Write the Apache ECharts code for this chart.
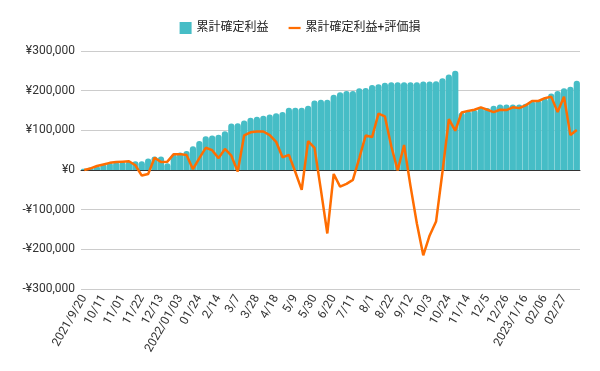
<!DOCTYPE html>
<html>
<head>
<meta charset="utf-8">
<script src="https://cdn.jsdelivr.net/npm/echarts@6/dist/echarts.min.js"></script>
<style>
html,body{margin:0;padding:0;background:#fff;}
#chart{width:600px;height:371px;}
</style>
</head>
<body>
<div id="chart"></div>
<script>
var categories = [
'2021/9/20','9/27','10/4','10/11','10/18','10/25','11/01','11/8','11/15','11/22',
'11/29','12/6','12/13','12/20','12/27','2022/01/03','01/10','01/17','01/24','01/31',
'2/7','2/14','2/21','2/28','3/7','3/14','3/21','3/28','4/4','4/11',
'4/18','4/25','5/2','5/9','5/16','5/23','5/30','6/6','6/13','6/20',
'6/27','7/4','7/11','7/18','7/25','8/1','8/8','8/15','8/22','8/29',
'9/5','9/12','9/19','9/26','10/3','10/10','10/17','10/24','10/31','11/7',
'11/14','11/21','11/28','12/5','12/12','12/19','12/26','2023/1/2','1/9','2023/1/16',
'1/23','1/30','02/06','02/13','02/20','02/27','03/06','03/13'
];
var seriesNames = ['累計確定利益', '累計確定利益+評価損'];
var realizedProfit = [
3000,7000,10000,15000,19000,20000,21000,22000,22000,22000,
29000,34000,34000,17000,40000,44000,48000,60000,73000,85000,
87000,89000,98000,117000,118000,125000,132000,134000,137000,140000,
143000,146000,157000,157000,157000,162000,175000,177000,177000,190000,
196000,199000,199000,206000,207000,214000,216000,220000,221000,221000,
221000,221000,221000,223000,223000,224000,231000,241000,250000,145000,
149000,151000,156000,156000,162000,165000,165000,165000,165000,167000,
174000,175000,180000,193000,199000,206000,210000,225000
];
var profitWithUnrealized = [
0,4000,10000,14000,18000,20000,21000,22000,12000,-14000,
-10000,31000,20000,21000,40000,40000,38000,2000,30000,56000,
50000,30000,53000,36000,-4000,87000,95000,97000,97000,88000,
71000,32000,38000,-5000,-50000,73000,56000,-50000,-160000,-10000,
-42000,-35000,-25000,30000,87000,83000,142000,135000,60000,-1000,
63000,-40000,-135000,-215000,-165000,-130000,-5000,128000,99000,145000,
149000,152000,158000,152000,146000,152000,151000,158000,156000,163000,
174000,174000,181000,185000,146000,185000,88000,101000
];
var yTicks = [-300000, 300000, 100000];

var font = "Roboto, 'Noto Sans CJK JP', sans-serif";
function yen(v){
  var s = Math.abs(v).toLocaleString('en-US');
  return (v < 0 ? '-' : '') + '¥' + s;
}
var chart = echarts.init(document.getElementById('chart'));
chart.setOption({
  animation: false,
  textStyle: {fontFamily: font},
  legend: {
    top: 17,
    left: 'center',
    itemGap: 20,
    itemWidth: 12,
    itemHeight: 12,
    textStyle: {fontSize: 12, color: '#222', fontFamily: font},
    data: [
      {name: seriesNames[0], icon: 'rect'},
      {name: seriesNames[1], icon: 'path://M0,0H16V3H0Z'}
    ]
  },
  grid: {left: 81, right: 20, top: 51, bottom: 82, containLabel: false},
  xAxis: [
    {
      type: 'category',
      data: categories,
      position: 'bottom',
      axisLine: {show: false, onZero: false},
      axisTick: {show: false},
      axisLabel: {interval: 2, rotate: 60, fontSize: 12, color: '#333', margin: 7, fontFamily: font},
      splitLine: {show: false}
    },
    {
      type: 'category',
      data: categories,
      position: 'bottom',
      axisLine: {show: true, onZero: true, lineStyle: {color: '#333', width: 1}},
      axisTick: {show: false},
      axisLabel: {show: false},
      splitLine: {show: false}
    }
  ],
  yAxis: {
    type: 'value',
    min: yTicks[0],
    max: yTicks[1],
    interval: yTicks[2],
    axisLine: {show: false},
    axisTick: {show: false},
    axisLabel: {formatter: yen, fontSize: 12, color: '#333', margin: 6, fontFamily: font},
    splitLine: {lineStyle: {color: '#cccccc', width: 1}}
  },
  series: [
    {
      name: seriesNames[0],
      type: 'bar',
      xAxisIndex: 0,
      data: realizedProfit,
      barCategoryGap: '3%',
      itemStyle: {color: '#46BDC6', borderRadius: [3,3,0,0]},
      z: 2
    },
    {
      name: seriesNames[1],
      type: 'line',
      xAxisIndex: 0,
      data: profitWithUnrealized,
      showSymbol: false,
      symbol: 'none',
      lineStyle: {color: '#FF6D01', width: 2.5},
      itemStyle: {color: '#FF6D01'},
      z: 3
    }
  ]
});
</script>
</body>
</html>
